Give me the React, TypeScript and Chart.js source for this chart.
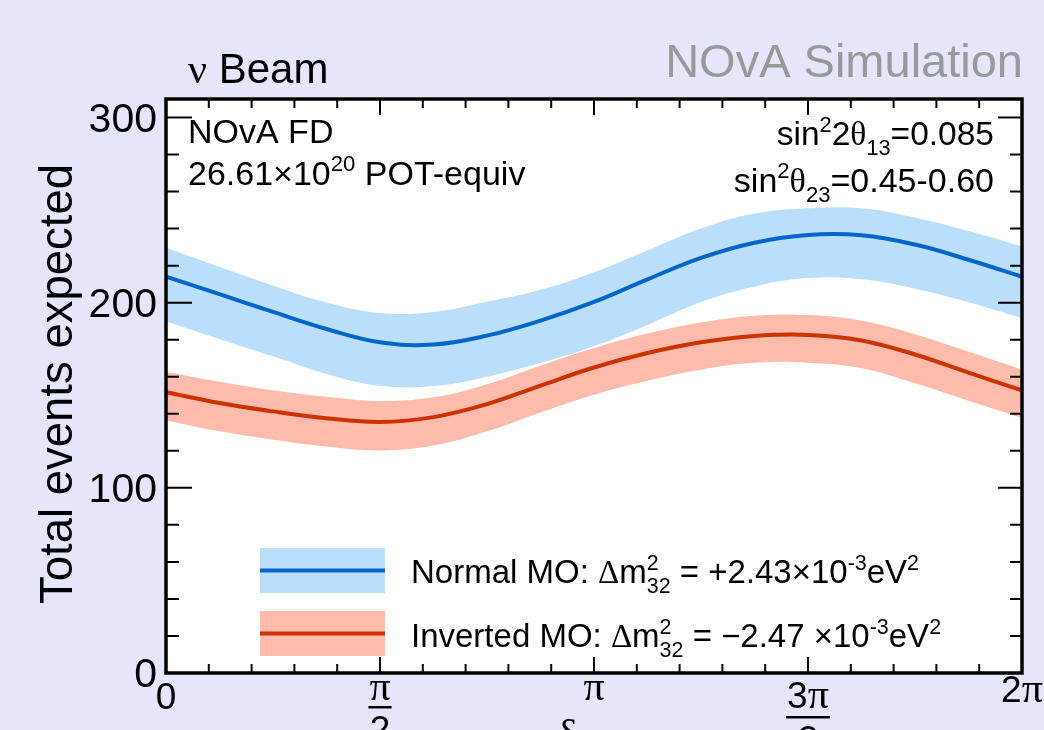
import React, { useEffect, useRef } from "react";
import { Chart, registerables } from "chart.js";

Chart.register(...registerables);

// delta_CP sample points, in units of pi
const DELTA_OVER_PI = [0, 0.125, 0.25, 0.375, 0.5, 0.625, 0.75, 0.875, 1, 1.125, 1.25, 1.375, 1.5, 1.625, 1.75, 1.875, 2];

const NORMAL_CENTER = [214, 204.6, 195, 185.8, 178.6, 177.4, 182.2, 190.3, 200.4, 212.6, 224.2, 232.4, 236.6, 236.4, 231.4, 223.2, 214];
const NORMAL_UPPER = [229.7, 219.4, 209.2, 200.1, 194.4, 195, 200.5, 207, 216.5, 228.2, 240, 248.1, 251, 251, 246, 238.7, 230.4];
const NORMAL_LOWER = [190, 180.4, 171, 161.5, 155.1, 155, 160, 167.5, 176.5, 188, 200.3, 208.8, 213.3, 212.6, 207.5, 200.2, 191.7];

const INVERTED_CENTER = [151.7, 145.8, 141.3, 137.6, 135.6, 138.2, 145.2, 155.2, 165, 172.8, 178.6, 182, 182.6, 179.6, 172, 162.2, 152.6];
const INVERTED_UPPER = [162.5, 157.3, 152.7, 149.2, 146.9, 148.9, 156, 166, 175.5, 183.3, 189.3, 193, 193.3, 190.3, 183, 173.6, 163.8];
const INVERTED_LOWER = [136.4, 130.5, 126, 122.3, 120.2, 122.8, 130.5, 140.7, 150.3, 157.8, 163.8, 167.5, 167.6, 164.6, 156.5, 147, 137.7];

const Y_TICK_LABELS = ["0", "100", "200", "300"];
const X_TICK_LABELS = [
  { v: 0, num: "0", den: "" },
  { v: 0.5, num: "π", den: "2" },
  { v: 1, num: "π", den: "" },
  { v: 1.5, num: "3π", den: "2" },
  { v: 2, num: "2π", den: "" },
];

const SANS = '"Liberation Sans", Arial, Helvetica, sans-serif';
const SERIF = '"Liberation Serif", "Times New Roman", serif';

const BG = "#e6e6fa";
const BLUE_LINE = "#0066cc";
const BLUE_BAND = "#bbdefb";
const RED_LINE = "#cc3300";
const RED_BAND = "#ffbcad";

type Seg = { t?: string; k?: "n" | "g" | "sup" | "sub" | "stack"; sup?: string; sub?: string };

const fnt = (size: number, fam: string) => `${size}px ${fam}`;

function segW(ctx: CanvasRenderingContext2D, s: Seg, size: number) {
  const small = size * 0.65;
  if (s.k === "stack") {
    ctx.font = fnt(small, SANS);
    return Math.max(ctx.measureText(s.sup || "").width, ctx.measureText(s.sub || "").width);
  }
  if (s.k === "sup" || s.k === "sub") {
    ctx.font = fnt(small, SANS);
    return ctx.measureText(s.t || "").width;
  }
  ctx.font = fnt(size, s.k === "g" ? SERIF : SANS);
  return ctx.measureText(s.t || "").width;
}

function drawRich(
  ctx: CanvasRenderingContext2D,
  segs: Seg[],
  x: number,
  y: number,
  size: number,
  align: "left" | "right" | "center",
  color = "#000"
) {
  ctx.save();
  ctx.translate(x, y);
  ctx.fillStyle = color;
  ctx.textAlign = "left";
  ctx.textBaseline = "alphabetic";
  const total = segs.reduce((a, s) => a + segW(ctx, s, size), 0);
  let cx = align === "right" ? -total : align === "center" ? -total / 2 : 0;
  const small = size * 0.65;
  for (const s of segs) {
    const w = segW(ctx, s, size);
    if (s.k === "stack") {
      ctx.font = fnt(small, SANS);
      ctx.fillText(s.sup || "", cx, -size * 0.4);
      ctx.fillText(s.sub || "", cx, size * 0.3);
    } else if (s.k === "sup") {
      ctx.font = fnt(small, SANS);
      ctx.fillText(s.t || "", cx, -size * 0.4);
    } else if (s.k === "sub") {
      ctx.font = fnt(small, SANS);
      ctx.fillText(s.t || "", cx, size * 0.3);
    } else {
      ctx.font = fnt(size, s.k === "g" ? SERIF : SANS);
      ctx.fillText(s.t || "", cx, 0);
    }
    cx += w;
  }
  ctx.restore();
}

const decoPlugin = {
  id: "deco",
  beforeDatasetsDraw(chart: any) {
    const { ctx, chartArea } = chart;
    const { left, right, top, bottom } = chartArea;
    ctx.save();
    ctx.fillStyle = "#ffffff";
    ctx.fillRect(left, top, right - left, bottom - top);
    ctx.restore();
  },
  afterDraw(chart: any) {
    const { ctx, chartArea } = chart;
    const { left, right, top, bottom } = chartArea;
    const xs = chart.scales.x;
    const ys = chart.scales.y;

    ctx.save();
    // ticks
    ctx.strokeStyle = "#000";
    ctx.lineWidth = 2;
    ctx.beginPath();
    for (let i = 1; i < 20; i++) {
      const px = xs.getPixelForValue((i * Math.PI) / 10);
      const len = i % 5 === 0 ? 16 : 9;
      ctx.moveTo(px, bottom);
      ctx.lineTo(px, bottom - len);
      ctx.moveTo(px, top);
      ctx.lineTo(px, top + len);
    }
    for (let v = 20; v <= 300; v += 20) {
      const py = ys.getPixelForValue(v);
      const major = v % 100 === 0;
      ctx.moveTo(left, py);
      ctx.lineTo(left + (major ? 26 : 13), py);
      ctx.moveTo(right, py);
      ctx.lineTo(right - (major ? 24 : 12), py);
    }
    ctx.stroke();

    // frame
    ctx.lineWidth = 3.5;
    ctx.strokeRect(left, top, right - left, bottom - top);

    // y tick labels
    ctx.fillStyle = "#000";
    ctx.font = fnt(41, SANS);
    ctx.textAlign = "right";
    ctx.textBaseline = "middle";
    for (const lab of Y_TICK_LABELS) {
      const py = ys.getPixelForValue(Number(lab));
      ctx.fillText(lab, 157, py + 3);
    }

    // x tick labels
    ctx.textAlign = "center";
    ctx.textBaseline = "alphabetic";
    for (const lab of X_TICK_LABELS) {
      const px = xs.getPixelForValue(lab.v * Math.PI);
      if (lab.num === "0") {
        ctx.font = fnt(37, SANS);
        ctx.fillText("0", px, 709);
      } else if (lab.den) {
        const isThree = lab.num.length > 1;
        const base = isThree ? 708 : 700;
        if (isThree) {
          ctx.font = fnt(37, SANS);
          const w3 = ctx.measureText("3").width;
          ctx.font = fnt(42, SERIF);
          const wp = ctx.measureText("π").width;
          const tot = w3 + wp;
          ctx.textAlign = "left";
          ctx.font = fnt(37, SANS);
          ctx.fillText("3", px - tot / 2, base);
          ctx.font = fnt(42, SERIF);
          ctx.fillText("π", px - tot / 2 + w3, base);
          ctx.textAlign = "center";
          ctx.fillRect(px - tot / 2 - 1, base + 8, tot + 2, 2.5);
          ctx.font = fnt(37, SANS);
          ctx.fillText("2", px, base + 44);
        } else {
          ctx.font = fnt(42, SERIF);
          const wp = ctx.measureText("π").width;
          ctx.fillText("π", px, base);
          ctx.fillRect(px - wp / 2 - 1, base + 6, wp + 2, 2.5);
          ctx.font = fnt(37, SANS);
          ctx.fillText("2", px, base + 42);
        }
      } else if (lab.num === "π") {
        ctx.font = fnt(42, SERIF);
        ctx.fillText("π", px, 700);
      } else {
        ctx.font = fnt(37, SANS);
        const w2 = ctx.measureText("2").width;
        ctx.font = fnt(42, SERIF);
        const wp = ctx.measureText("π").width;
        const tot = w2 + wp;
        ctx.textAlign = "left";
        ctx.font = fnt(37, SANS);
        ctx.fillText("2", px - tot / 2, 702);
        ctx.font = fnt(42, SERIF);
        ctx.fillText("π", px - tot / 2 + w2, 702);
        ctx.textAlign = "center";
      }
    }

    // x axis title (mostly cut off)
    drawRich(ctx, [{ t: "δ", k: "g" }, { t: "CP", k: "sub" }], 557, 750, 44, "left");

    // y axis title
    ctx.save();
    ctx.translate(72, 384);
    ctx.rotate(-Math.PI / 2);
    ctx.font = fnt(45.5, SANS);
    ctx.textAlign = "center";
    ctx.textBaseline = "alphabetic";
    ctx.fillStyle = "#000";
    ctx.fillText("Total events expected", 0, 0);
    ctx.restore();

    // header texts
    drawRich(ctx, [{ t: "ν", k: "g" }, { t: " Beam" }], 188, 83, 42, "left");
    drawRich(ctx, [{ t: "NOvA Simulation" }], 1023, 77, 47, "right", "#999999");

    // inner texts
    drawRich(ctx, [{ t: "NOvA FD" }], 188, 143, 34, "left");
    drawRich(ctx, [{ t: "26.61×10" }, { t: "20", k: "sup" }, { t: " POT-equiv" }], 188, 185, 34, "left");
    drawRich(
      ctx,
      [{ t: "sin" }, { t: "2", k: "sup" }, { t: "2" }, { t: "θ", k: "g" }, { t: "13", k: "sub" }, { t: "=0.085" }],
      994,
      145,
      33.5,
      "right"
    );
    drawRich(
      ctx,
      [{ t: "sin" }, { t: "2", k: "sup" }, { t: "θ", k: "g" }, { t: "23", k: "sub" }, { t: "=0.45-0.60" }],
      994,
      192,
      34,
      "right"
    );

    // legend
    const entries = [
      {
        band: BLUE_BAND,
        line: BLUE_LINE,
        y0: 548,
        segs: [
          { t: "Normal MO: " },
          { t: "Δ", k: "g" },
          { t: "m" },
          { k: "stack", sup: "2", sub: "32" },
          { t: " = +2.43×10" },
          { t: "-3", k: "sup" },
          { t: "eV" },
          { t: "2", k: "sup" },
        ] as Seg[],
        base: 583,
      },
      {
        band: RED_BAND,
        line: RED_LINE,
        y0: 611,
        segs: [
          { t: "Inverted MO: " },
          { t: "Δ", k: "g" },
          { t: "m" },
          { k: "stack", sup: "2", sub: "32" },
          { t: " = −2.47 ×10" },
          { t: "-3", k: "sup" },
          { t: "eV" },
          { t: "2", k: "sup" },
        ] as Seg[],
        base: 647,
      },
    ];
    for (const e of entries) {
      ctx.fillStyle = e.band;
      ctx.fillRect(260, e.y0, 125, 45);
      ctx.fillStyle = e.line;
      ctx.fillRect(260, e.y0 + 20.5, 125, 4);
      drawRich(ctx, e.segs, 411, e.base, 33, "left");
    }
    ctx.restore();
  },
};

function pts(vals: number[]) {
  return DELTA_OVER_PI.map((d, i) => ({ x: d * Math.PI, y: vals[i] }));
}

export default function App() {
  const ref = useRef<HTMLCanvasElement | null>(null);
  useEffect(() => {
    if (!ref.current) return;
    const common = { pointRadius: 0, tension: 0.4 };
    const chart = new Chart(ref.current, {
      type: "line",
      data: {
        datasets: [
          { ...common, label: "nu", data: pts(NORMAL_UPPER), borderWidth: 0, borderColor: "rgba(0,0,0,0)", fill: false, order: 3 },
          { ...common, label: "nl", data: pts(NORMAL_LOWER), borderWidth: 0, borderColor: "rgba(0,0,0,0)", backgroundColor: BLUE_BAND, fill: 0, order: 3 },
          { ...common, label: "iu", data: pts(INVERTED_UPPER), borderWidth: 0, borderColor: "rgba(0,0,0,0)", fill: false, order: 4 },
          { ...common, label: "il", data: pts(INVERTED_LOWER), borderWidth: 0, borderColor: "rgba(0,0,0,0)", backgroundColor: RED_BAND, fill: 2, order: 4 },
          { ...common, label: "Inverted MO", data: pts(INVERTED_CENTER), borderColor: RED_LINE, borderWidth: 4, fill: false, order: 1 },
          { ...common, label: "Normal MO", data: pts(NORMAL_CENTER), borderColor: BLUE_LINE, borderWidth: 4, fill: false, order: 0 },
        ],
      },
      options: {
        animation: false,
        responsive: false,
        maintainAspectRatio: false,
        layout: { padding: { left: 166, right: 22, top: 99, bottom: 57 } },
        scales: {
          x: { type: "linear", min: 0, max: 2 * Math.PI, display: false },
          y: { type: "linear", min: 0, max: 310, display: false },
        },
        plugins: { legend: { display: false }, tooltip: { enabled: false } },
      },
      plugins: [decoPlugin],
    } as any);
    return () => chart.destroy();
  }, []);
  return (
    <div style={{ position: "fixed", left: 0, top: 0, width: 1044, height: 730, background: BG, overflow: "hidden" }}>
      <canvas ref={ref} width={1044} height={730} style={{ display: "block", width: 1044, height: 730 }} />
    </div>
  );
}
